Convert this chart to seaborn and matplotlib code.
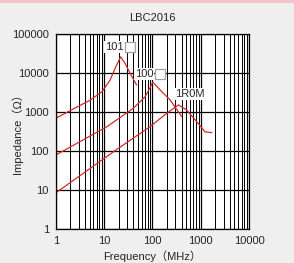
import matplotlib
matplotlib.use("Agg")
import matplotlib.pyplot as plt
import matplotlib.ticker as mticker
import numpy as np
import pandas as pd
import seaborn as sns

# Impedance curves (frequency in MHz, impedance in ohm)
freq_101 = [1, 2.3, 5.1, 9, 13.3, 16.9, 22, 27, 34.5, 47]
imp_101 = [690, 1200, 2000, 3300, 6600, 13200, 26000, 17700, 9800, 4900]

freq_100 = [1, 11.4, 40, 70.6, 102, 144, 232, 405]
imp_100 = [79, 420, 1240, 2460, 5800, 3670, 2040, 760]

freq_1r0m = [1, 18.3, 89, 199, 347, 512, 830, 1230, 1700]
imp_1r0m = [8.5, 110, 420, 930, 1520, 1120, 560, 310, 295]

# part labels and whether they carry the empty placeholder box
labels = ["101", "100", "1R0M"]
label_box = [True, True, False]
label_pos = [(22.5, 46500), (94, 9400), (600, 2900)]

x_ticks = [1, 10, 100, 1000, 10000]
y_ticks = [1, 10, 100, 1000, 10000, 100000]

sns.set_style("white")
plt.rcParams["font.family"] = ["Liberation Sans", "Noto Sans CJK JP", "DejaVu Sans"]

df = pd.concat([
    pd.DataFrame({"freq": freq_101, "imp": imp_101, "part": "101"}),
    pd.DataFrame({"freq": freq_100, "imp": imp_100, "part": "100"}),
    pd.DataFrame({"freq": freq_1r0m, "imp": imp_1r0m, "part": "1R0M"}),
])

fig = plt.figure(figsize=(2.94, 2.63), dpi=100, facecolor="#efefef")
ax = fig.add_axes([0.19, 0.129, 0.657, 0.742])
ax.set_facecolor("white")
ax.set_xscale("log")
ax.set_yscale("log")
ax.set_xlim(1, 10000)
ax.set_ylim(1, 100000)

# vertical grid at every 1..9 multiple, horizontal only at decades
ax.xaxis.set_minor_locator(mticker.LogLocator(base=10, subs=np.arange(2, 10)))
ax.grid(which="major", axis="both", color="black", linewidth=0.9)
ax.grid(which="minor", axis="x", color="black", linewidth=0.7)
ax.yaxis.set_minor_locator(mticker.NullLocator())

sns.lineplot(data=df, x="freq", y="imp", units="part", estimator=None,
             sort=False, color="#d42a2a", linewidth=0.9, ax=ax, legend=False)

bg = dict(facecolor="white", edgecolor="none", pad=0.8)
for text, box, (fx, fy) in zip(labels, label_box, label_pos):
    if box:
        ax.annotate(text, (fx, fy), xytext=(1.5, 0), textcoords="offset points",
                    ha="right", va="center", fontsize=8, bbox=bg)
        # empty grey-outlined placeholder box after the part number
        ax.annotate("\u2003", (fx, fy), xytext=(6.5, 0), textcoords="offset points",
                    ha="center", va="center", fontsize=5.5, zorder=6,
                    bbox=dict(boxstyle="square,pad=0.15", facecolor="white",
                              edgecolor="#a0a0a0", linewidth=0.9))
    else:
        ax.text(fx, fy, text, ha="center", va="center", fontsize=8, bbox=bg)

ax.set_xticks(x_ticks)
ax.set_xticklabels([str(t) for t in x_ticks])
ax.set_yticks(y_ticks)
ax.set_yticklabels([str(t) for t in y_ticks])
ax.tick_params(which="major", labelsize=8, length=3, width=0.8, color="black", pad=2)
ax.tick_params(which="minor", length=0)
for s in ax.spines.values():
    s.set_color("black")
    s.set_linewidth(0.9)

ax.set_xlabel("Frequency（MHz）", fontsize=8, labelpad=3)
ax.set_ylabel("Impedance（Ω）", fontsize=8)
ax.yaxis.set_label_coords(-0.172, 0.5)
ax.set_title("LBC2016", fontsize=8, pad=9)

fig.patches.append(plt.Rectangle((0, 0.988), 1, 0.012, transform=fig.transFigure,
                                 facecolor="#f2c4c8", edgecolor="none"))

fig.savefig("out.png", dpi=100, facecolor=fig.get_facecolor())
